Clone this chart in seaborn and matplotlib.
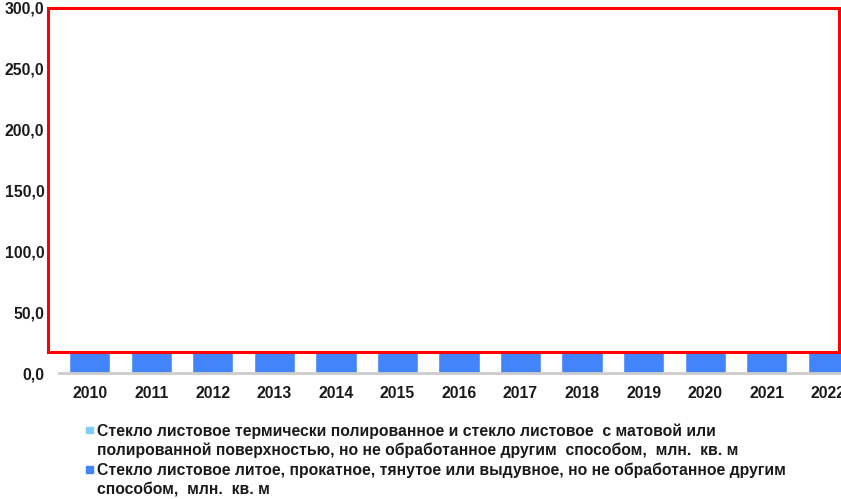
import matplotlib
matplotlib.use("Agg")
import matplotlib.pyplot as plt
import matplotlib.patches as mpatches
from matplotlib.ticker import FuncFormatter
import pandas as pd
import seaborn as sns

# data (the part above ~17 is hidden by the red frame)
years = ["2010", "2011", "2012", "2013", "2014", "2015", "2016",
         "2017", "2018", "2019", "2020", "2021", "2022"]
sheet_rolled = [17.0, 17.0, 17.0, 17.0, 17.0, 17.0, 17.0,
                17.0, 17.0, 17.0, 17.0, 17.0, 17.0]
sheet_polished = [0.0, 0.0, 0.0, 0.0, 0.0, 0.0, 0.0,
                  0.0, 0.0, 0.0, 0.0, 0.0, 0.0]
label_polished = ["Стекло листовое термически полированное и стекло листовое  с матовой или",
                  "полированной поверхностью, но не обработанное другим  способом,  млн.  кв. м"]
label_rolled = ["Стекло листовое литое, прокатное, тянутое или выдувное, но не обработанное другим",
                "способом,  млн.  кв. м"]

c_light = "#7fcdfb"
c_blue = "#4285fa"

df = pd.DataFrame({"year": years, "rolled": sheet_rolled, "polished": sheet_polished})
df["total"] = df["rolled"] + df["polished"]

sns.set_style("white")
plt.rcParams["font.family"] = ["Liberation Sans", "DejaVu Sans"]

W, H = 841, 499
fig = plt.figure(figsize=(W / 100, H / 100), dpi=100)
ax = fig.add_axes([59 / W, 126 / H, 800 / W, 365 / H])

sns.barplot(data=df, x="year", y="total", color=c_light, width=0.67,
            saturation=1, ax=ax)
sns.barplot(data=df, x="year", y="rolled", color=c_blue, width=0.67,
            saturation=1, ax=ax)

ax.set_ylim(0, 300)
ax.set_xlim(-0.5, 12.5)
ax.set_yticks([0, 50, 100, 150, 200, 250, 300])
ax.yaxis.set_major_formatter(FuncFormatter(lambda v, p: f"{v:.1f}".replace(".", ",")))
ax.set_xlabel("")
ax.set_ylabel("")
ax.tick_params(axis="both", length=0, labelsize=11.3, colors="#1a1a1a")
ax.tick_params(axis="y", pad=10.5)
ax.tick_params(axis="x", pad=9)
for t in ax.get_xticklabels() + ax.get_yticklabels():
    t.set_fontweight("bold")
for s in ["top", "right", "left"]:
    ax.spines[s].set_visible(False)
ax.spines["bottom"].set_color("#cccccc")
ax.spines["bottom"].set_linewidth(2)

# red highlight frame over the upper part of the chart
frame = mpatches.Rectangle((48 / W, 147 / H), 791 / W, 344 / H,
                           transform=fig.transFigure, facecolor="white",
                           edgecolor="#ff0000", linewidth=2.2, zorder=10)
fig.patches.append(frame)

# legend drawn by hand so the marker sits on the first line of each entry
entries = [(c_light, label_polished, 436), (c_blue, label_rolled, 475.5)]
for color, lines, base0 in entries:
    fig.patches.append(mpatches.Rectangle((86 / W, 1 - (base0 - 3) / H), 6.5 / W, 6.5 / H,
                                          transform=fig.transFigure, color=color))
    for i, line in enumerate(lines):
        base = base0 + i * 18.5
        fig.text(97 / W, 1 - base / H, line, ha="left", va="baseline",
                 fontsize=11.3, fontweight="bold", color="#1a1a1a")

fig.savefig("out.png", dpi=100)
